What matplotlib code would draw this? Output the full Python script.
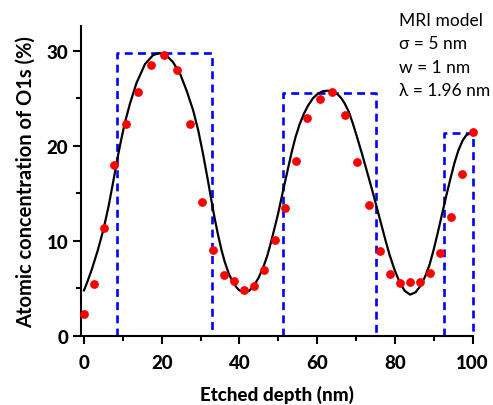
import matplotlib
matplotlib.use("Agg")
import matplotlib.pyplot as plt
from matplotlib.ticker import MultipleLocator

# Measured data (red dots)
depth_meas = [0.1, 2.6, 5.1, 7.8, 10.9, 13.9, 17.3, 20.5, 24.0, 27.3, 30.4, 33.3,
              36.0, 38.5, 41.1, 43.8, 46.4, 49.1, 51.7, 54.5, 57.4, 60.7, 63.9, 67.1,
              70.2, 73.3, 76.1, 78.8, 81.4, 83.9, 86.5, 89.1, 91.7, 94.5, 97.3, 100.0]
conc_meas = [2.3, 5.5, 11.4, 18.0, 22.3, 25.65, 28.45, 29.6, 28.0, 22.3, 14.1, 9.0,
             6.4, 5.8, 4.85, 5.25, 6.9, 10.1, 13.5, 18.45, 22.9, 24.9, 25.7, 23.2,
             18.25, 13.75, 8.95, 6.5, 5.55, 5.65, 5.7, 6.6, 8.7, 12.55, 17.05, 21.5]

# MRI model curve
depth_model = [0, 1.0, 2.0, 3.5, 5.0, 6.3, 7.5, 8.8, 9.7, 10.5, 11.8, 13.5, 15.7, 17.8,
               19.5, 21.2, 22.9, 24.7, 26.4, 28.1, 29.4, 30.6, 31.9, 32.8, 33.65,
               34.5, 35.4, 36.2, 37.3, 38.4, 39.8, 41.2, 42.5, 43.9, 45.0, 46.1,
               47.2, 48.2, 49.9, 51.6, 53.35, 54.4, 55.5, 56.6, 57.6, 58.9, 60.2,
               61.5, 62.75, 64.0, 65.3, 66.2, 67.0, 68.1, 69.2, 70.4, 71.7, 73.0,
               74.3, 75.4, 76.5, 77.6, 78.6, 79.9, 81.2, 82.5, 83.9, 85.3, 86.7,
               87.8, 88.9, 90.0, 91.0, 92.1, 93.2, 94.3, 95.3, 96.3, 97.4, 98.3,
               99.2, 100.0]
conc_model = [4.8, 5.85, 7.0, 8.95, 11.2, 13.6, 16.2, 19.1, 20.9, 22.4, 24.4, 26.6, 28.6,
              29.55, 29.75, 29.5, 28.8, 27.6, 25.8, 23.7, 21.6, 19.2, 16.3, 14.2, 12.3,
              10.6, 9.0, 7.8, 6.5, 5.55, 4.85, 4.55, 4.75, 5.4, 6.2, 7.2,
              8.5, 10.0, 12.8, 16.0, 19.2, 20.9, 22.3, 23.4, 24.2, 25.0, 25.5,
              25.75, 25.8, 25.7, 25.4, 25.0, 24.5, 23.6, 22.3, 20.7, 18.9, 17.0,
              15.1, 13.4, 11.7, 10.0, 8.55, 6.95, 5.65, 4.75, 4.35, 4.6, 5.35,
              6.3, 7.5, 9.15, 10.85, 12.8, 14.75, 16.6, 18.2, 19.5, 20.55, 21.1,
              21.3, 21.25]

# Layer profile (blue dashed rectangles)
layer_start = [8.55, 51.2, 92.5]
layer_end = [32.8, 75.0, 100.1]
layer_height = [29.8, 25.6, 21.3]

model_text = ["MRI model", "σ = 5 nm", "w = 1 nm", "λ = 1.96 nm"]

W, H = 493, 406
fig = plt.figure(figsize=(W / 100, H / 100), dpi=100)
ax = fig.add_axes([80.7 / W, 1 - 337 / H, (473.3 - 80.7) / W, (337 - 27) / H])

for x0, x1, h in zip(layer_start, layer_end, layer_height):
    ax.plot([x0, x0, x1, x1], [0, h, h, 0], color="#0000ff", lw=1.9,
            ls=(0, (3.0, 2.0)), clip_on=False, zorder=2)

ax.plot(depth_model, conc_model, color="black", lw=1.6, zorder=3, clip_on=False,
        solid_joinstyle="round")
ax.plot(depth_meas, conc_meas, "o", color="#ff0000", ms=6.3, mec="none",
        zorder=4, clip_on=False)

ax.set_xlim(-0.85, 100.15)
ax.set_ylim(0, 32.6)
ax.xaxis.set_major_locator(MultipleLocator(20))
ax.xaxis.set_minor_locator(MultipleLocator(10))
ax.yaxis.set_major_locator(MultipleLocator(10))
ax.yaxis.set_minor_locator(MultipleLocator(5))

for s in ["top", "right"]:
    ax.spines[s].set_visible(False)
for s in ["left", "bottom"]:
    ax.spines[s].set_linewidth(1.5)

fam = ["Lato", "DejaVu Sans"]
ax.tick_params(which="major", direction="out", length=6, width=1.5, pad=3)
ax.tick_params(which="minor", direction="out", length=3.5, width=1.5)
ax.tick_params(axis="x", which="major", pad=7)
for lab in ax.get_xticklabels() + ax.get_yticklabels():
    lab.set_fontfamily(fam)
    lab.set_fontweight("black")
    lab.set_fontsize(13.5)

ax.set_xlabel("Etched depth (nm)", fontsize=13.5, fontweight="black",
              family=fam, labelpad=10)
ax.set_ylabel("Atomic concentration of O1s (%)", fontsize=14.5, fontweight="bold",
              family=fam, labelpad=8)

for i, t in enumerate(model_text):
    fig.text(399 / W, 1 - (21 + 23.3 * i) / H, t, fontsize=12.5, family=fam,
             va="center", ha="left")

fig.savefig("out.png", dpi=100)
